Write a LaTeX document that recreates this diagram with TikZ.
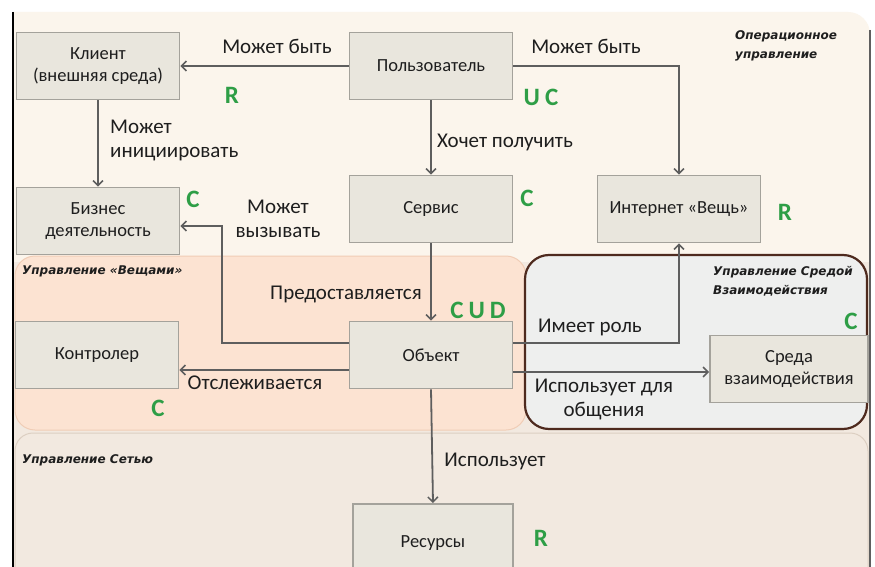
\documentclass[tikz,border=0pt]{standalone}
\usepackage{fontspec}
\setmainfont{Carlito}
\newfontfamily\regfont{DejaVu Sans}
\usetikzlibrary{arrows.meta}
\definecolor{topbg}{HTML}{FBF5EC}
\definecolor{thingbg}{HTML}{FCE3D2}
\definecolor{thingbd}{HTML}{F0CDB6}
\definecolor{envbg}{HTML}{EEEFEE}
\definecolor{envbd}{HTML}{4E2A1E}
\definecolor{netbg}{HTML}{F2E9E0}
\definecolor{netbd}{HTML}{DCCFC2}
\definecolor{boxfill}{HTML}{E9E6DD}
\definecolor{boxbd}{HTML}{A4A29B}
\definecolor{linec}{HTML}{5E5E5E}
\definecolor{txt}{HTML}{1E1E1E}
\definecolor{grn}{HTML}{2E9E46}
\begin{document}
\begin{tikzpicture}[x=1pt,y=-1pt,
  box/.style={draw=boxbd, line width=1.8pt, fill=boxfill, align=center, text=txt,
    font=\fontsize{18.5}{22}\selectfont, inner sep=0pt, minimum width=163pt, minimum height=67pt},
  conn/.style={draw=linec, line width=1.8pt, -{Straight Barb[length=5pt,width=10pt,line width=1.5pt]}},
  lbl/.style={text=txt, font=\fontsize{21}{24}\selectfont, inner sep=0pt},
  reg/.style={text=txt, font=\regfont\fontsize{12}{19}\selectfont\bfseries\itshape, inner sep=0pt, anchor=west},
  crud/.style={text=grn, font=\fontsize{25}{27}\selectfont\bfseries, inner sep=0pt}]
\useasboundingbox (0,0) rectangle (875,567);
\clip (0,0) rectangle (875,567);
\fill[white] (0,0) rectangle (875,567);
% regions
\fill[topbg] (13,12) -- (848,12) arc[start angle=90, end angle=0, radius=22pt] -- (870,300) -- (13,300) -- cycle;
\fill[netbg] (13,262) rectangle (870,567);
\filldraw[fill=thingbg, draw=thingbd, line width=1pt, rounded corners=20pt] (15,256) rectangle (526,430);
\filldraw[fill=netbg, draw=netbd, line width=1pt, rounded corners=18pt] (15,433) rectangle (868,600);
\filldraw[fill=envbg, draw=envbd, line width=2.2pt, rounded corners=24pt] (525,255) rectangle (867,429);
\draw[black, line width=2pt] (13,12) -- (13,567);
\draw[linec, line width=2pt] (870,30) -- (870,567);
% nodes
\node[box] (klient) at (98,66) {Клиент\\(внешняя среда)};
\node[box] (polz) at (431,66) {Пользователь};
\node[box] (biz) at (98,221) {Бизнес\\деятельность};
\node[box] (servis) at (431,209) {Сервис};
\node[box] (inet) at (679,209) {Интернет «Вещь»};
\node[box] (kontr) at (97,355) {Контролер};
\node[box] (obj) at (431,355) {Объект};
\node[box, minimum width=158pt] (sreda) at (789,369) {Среда\\взаимодействия};
\node[box, minimum width=160pt, minimum height=80pt, anchor=north] (res) at (433,503) {\raisebox{4pt}{Ресурсы}};
\coordinate (c1) at (222,226);
% connectors
\draw[conn] (polz.west) -- (klient.east);
\draw[conn] (polz.east) -| (inet.north);
\draw[conn] (klient.south) -- (biz.north);
\draw[conn] (polz.south) -- (servis.north);
\draw[conn] (servis.south) -- (obj.north);
\draw[conn] (obj.west |- 0,343) -| (c1) -- (biz.east |- c1);
\draw[conn] (obj.west |- 0,370) -- (kontr.east |- 0,370);
\draw[conn] (obj.east |- 0,343) -| (inet.south);
\draw[conn] (obj.east |- 0,372) -- (sreda.west |- 0,372);
\draw[conn] (obj.south) -- (res.north);
% labels
\node[lbl] (l1) at (277,46) {Может быть};
\node[lbl] (l2) at (586,46) {Может быть};
\node[lbl, align=left, anchor=west] (l3) at (110,140) {Может\\инициировать};
\node[lbl, anchor=west] (l4) at (437,142) {Хочет получить};
\node[lbl, align=center] (l5) at (278,219) {Может\\вызывать};
\node[lbl] (l6) at (346,294) {Предоставляется};
\node[lbl] (l7) at (590,327) {Имеет роль};
\node[lbl] (l8) at (255,383) {Отслеживается};
\node[lbl, align=center] (l9) at (604,399) {Использует для\\общения};
\node[lbl] (l10) at (495,461) {Использует};
% region titles
\node[reg, align=left] (r1) at (735,46) {Операционное\\управление};
\node[reg] (r2) at (22,271) {Управление «Вещами»};
\node[reg, align=left] (r3) at (713,281) {Управление Средой\\Взаимодействия};
\node[reg] (r4) at (22,460) {Управление Сетью};
% CRUD letters
\node[crud] (g1) at (232,95) {R};
\node[crud] (g2) at (541,97) {U\hspace{5pt}C};
\node[crud] (g3) at (193,199) {C};
\node[crud] (g4) at (527,198) {C};
\node[crud] (g5) at (785,212) {R};
\node[crud] (g6) at (478,310) {C\hspace{5pt}U\hspace{5pt}D};
\node[crud] (g7) at (851,321) {C};
\node[crud] (g8) at (158,408) {C};
\node[crud] (g9) at (541,538) {R};
\end{tikzpicture}
\end{document}
